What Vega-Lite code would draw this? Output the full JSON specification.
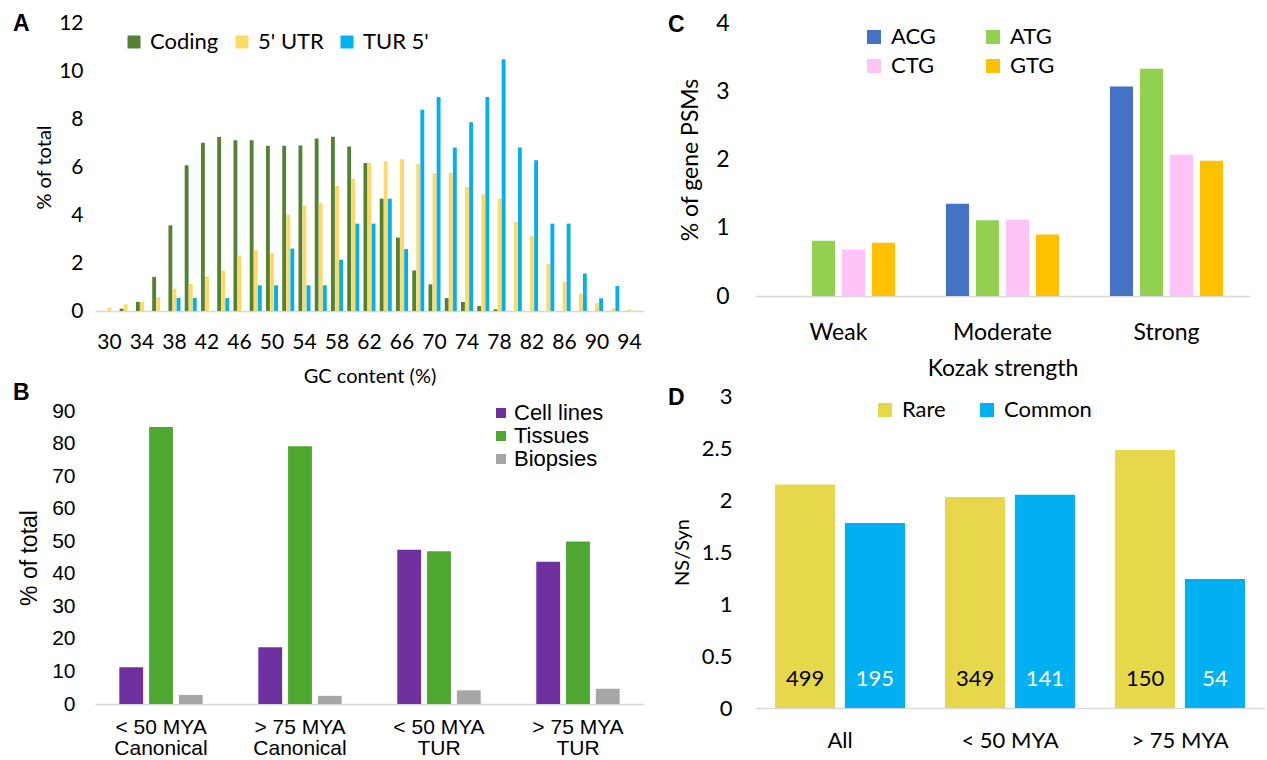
{
  "$schema": "https://vega.github.io/schema/vega-lite/v6.json",
  "background": "white",
  "padding": {"left": 13, "top": 12, "right": 0, "bottom": 0},
  "spacing": 660,
  "bounds": "flush",
  "resolve": {"scale": {"x": "independent", "y": "independent", "color": "independent", "xOffset": "independent"}},
  "config": {
    "view": {"stroke": null},
    "axis": {"grid": false, "ticks": false, "labelColor": "#000000", "titleColor": "#000000", "titleFontWeight": "normal"},
    "axisX": {"domain": true, "domainColor": "#d9d9d9", "domainWidth": 1.5, "labelAngle": 0},
    "axisY": {"domain": false},
    "legend": {"symbolType": "square", "symbolStrokeWidth": 0, "padding": 0, "labelColor": "#000000", "title": null},
    "title": {"anchor": "start", "frame": "group", "font": "Liberation Sans", "fontSize": 23, "fontWeight": "bold", "color": "#000000", "offset": 0}
  },
  "datasets": {
    "gc": [
      {"gc": 30, "series": "5' UTR", "pct": 0.14},
      {"gc": 32, "series": "Coding", "pct": 0.1}, {"gc": 32, "series": "5' UTR", "pct": 0.28},
      {"gc": 34, "series": "Coding", "pct": 0.38}, {"gc": 34, "series": "5' UTR", "pct": 0.38},
      {"gc": 36, "series": "Coding", "pct": 1.42}, {"gc": 36, "series": "5' UTR", "pct": 0.58},
      {"gc": 38, "series": "Coding", "pct": 3.57}, {"gc": 38, "series": "5' UTR", "pct": 0.93}, {"gc": 38, "series": "TUR 5'", "pct": 0.54},
      {"gc": 40, "series": "Coding", "pct": 6.07}, {"gc": 40, "series": "5' UTR", "pct": 1.14}, {"gc": 40, "series": "TUR 5'", "pct": 0.54},
      {"gc": 42, "series": "Coding", "pct": 7.01}, {"gc": 42, "series": "5' UTR", "pct": 1.44},
      {"gc": 44, "series": "Coding", "pct": 7.25}, {"gc": 44, "series": "5' UTR", "pct": 1.69}, {"gc": 44, "series": "TUR 5'", "pct": 0.54},
      {"gc": 46, "series": "Coding", "pct": 7.11}, {"gc": 46, "series": "5' UTR", "pct": 2.31},
      {"gc": 48, "series": "Coding", "pct": 7.11}, {"gc": 48, "series": "5' UTR", "pct": 2.53}, {"gc": 48, "series": "TUR 5'", "pct": 1.07},
      {"gc": 50, "series": "Coding", "pct": 6.89}, {"gc": 50, "series": "5' UTR", "pct": 2.42}, {"gc": 50, "series": "TUR 5'", "pct": 1.07},
      {"gc": 52, "series": "Coding", "pct": 6.89}, {"gc": 52, "series": "5' UTR", "pct": 4.01}, {"gc": 52, "series": "TUR 5'", "pct": 2.6},
      {"gc": 54, "series": "Coding", "pct": 6.9}, {"gc": 54, "series": "5' UTR", "pct": 4.4}, {"gc": 54, "series": "TUR 5'", "pct": 1.07},
      {"gc": 56, "series": "Coding", "pct": 7.19}, {"gc": 56, "series": "5' UTR", "pct": 4.49}, {"gc": 56, "series": "TUR 5'", "pct": 1.07},
      {"gc": 58, "series": "Coding", "pct": 7.26}, {"gc": 58, "series": "5' UTR", "pct": 5.21}, {"gc": 58, "series": "TUR 5'", "pct": 2.14},
      {"gc": 60, "series": "Coding", "pct": 6.85}, {"gc": 60, "series": "5' UTR", "pct": 5.5}, {"gc": 60, "series": "TUR 5'", "pct": 3.64},
      {"gc": 62, "series": "Coding", "pct": 6.17}, {"gc": 62, "series": "5' UTR", "pct": 6.17}, {"gc": 62, "series": "TUR 5'", "pct": 3.64},
      {"gc": 64, "series": "Coding", "pct": 4.68}, {"gc": 64, "series": "5' UTR", "pct": 6.24}, {"gc": 64, "series": "TUR 5'", "pct": 4.68},
      {"gc": 66, "series": "Coding", "pct": 3.06}, {"gc": 66, "series": "5' UTR", "pct": 6.33}, {"gc": 66, "series": "TUR 5'", "pct": 2.58},
      {"gc": 68, "series": "Coding", "pct": 1.69}, {"gc": 68, "series": "5' UTR", "pct": 6.14}, {"gc": 68, "series": "TUR 5'", "pct": 8.39},
      {"gc": 70, "series": "Coding", "pct": 1.11}, {"gc": 70, "series": "5' UTR", "pct": 5.74}, {"gc": 70, "series": "TUR 5'", "pct": 8.92},
      {"gc": 72, "series": "Coding", "pct": 0.54}, {"gc": 72, "series": "5' UTR", "pct": 5.76}, {"gc": 72, "series": "TUR 5'", "pct": 6.81},
      {"gc": 74, "series": "Coding", "pct": 0.38}, {"gc": 74, "series": "5' UTR", "pct": 5.17}, {"gc": 74, "series": "TUR 5'", "pct": 7.86},
      {"gc": 76, "series": "Coding", "pct": 0.21}, {"gc": 76, "series": "5' UTR", "pct": 4.86}, {"gc": 76, "series": "TUR 5'", "pct": 8.92},
      {"gc": 78, "series": "Coding", "pct": 0.07}, {"gc": 78, "series": "5' UTR", "pct": 4.68}, {"gc": 78, "series": "TUR 5'", "pct": 10.49},
      {"gc": 80, "series": "5' UTR", "pct": 3.71}, {"gc": 80, "series": "TUR 5'", "pct": 6.81},
      {"gc": 82, "series": "5' UTR", "pct": 3.13}, {"gc": 82, "series": "TUR 5'", "pct": 6.28},
      {"gc": 84, "series": "5' UTR", "pct": 1.96}, {"gc": 84, "series": "TUR 5'", "pct": 3.64},
      {"gc": 86, "series": "5' UTR", "pct": 1.22}, {"gc": 86, "series": "TUR 5'", "pct": 3.64},
      {"gc": 88, "series": "5' UTR", "pct": 0.72}, {"gc": 88, "series": "TUR 5'", "pct": 1.56},
      {"gc": 90, "series": "5' UTR", "pct": 0.33}, {"gc": 90, "series": "TUR 5'", "pct": 0.53},
      {"gc": 92, "series": "5' UTR", "pct": 0.11}, {"gc": 92, "series": "TUR 5'", "pct": 1.04},
      {"gc": 94, "series": "5' UTR", "pct": 0.06}
    ],
    "samples": [
      {"group": "< 50 MYA|Canonical", "source": "Cell lines", "pct": 11.3},
      {"group": "< 50 MYA|Canonical", "source": "Tissues", "pct": 85.1},
      {"group": "< 50 MYA|Canonical", "source": "Biopsies", "pct": 2.8},
      {"group": "> 75 MYA|Canonical", "source": "Cell lines", "pct": 17.4},
      {"group": "> 75 MYA|Canonical", "source": "Tissues", "pct": 79.2},
      {"group": "> 75 MYA|Canonical", "source": "Biopsies", "pct": 2.5},
      {"group": "< 50 MYA|TUR", "source": "Cell lines", "pct": 47.4},
      {"group": "< 50 MYA|TUR", "source": "Tissues", "pct": 46.9},
      {"group": "< 50 MYA|TUR", "source": "Biopsies", "pct": 4.2},
      {"group": "> 75 MYA|TUR", "source": "Cell lines", "pct": 43.7},
      {"group": "> 75 MYA|TUR", "source": "Tissues", "pct": 49.9},
      {"group": "> 75 MYA|TUR", "source": "Biopsies", "pct": 4.7}
    ],
    "kozak": [
      {"strength": "Weak", "codon": "ATG", "pct": 0.81},
      {"strength": "Weak", "codon": "CTG", "pct": 0.68},
      {"strength": "Weak", "codon": "GTG", "pct": 0.78},
      {"strength": "Moderate", "codon": "ACG", "pct": 1.35},
      {"strength": "Moderate", "codon": "ATG", "pct": 1.11},
      {"strength": "Moderate", "codon": "CTG", "pct": 1.12},
      {"strength": "Moderate", "codon": "GTG", "pct": 0.9},
      {"strength": "Strong", "codon": "ACG", "pct": 3.07},
      {"strength": "Strong", "codon": "ATG", "pct": 3.33},
      {"strength": "Strong", "codon": "CTG", "pct": 2.07},
      {"strength": "Strong", "codon": "GTG", "pct": 1.98}
    ],
    "nssyn": [
      {"age": "All", "freq": "Rare", "ratio": 2.15, "n": 499},
      {"age": "All", "freq": "Common", "ratio": 1.78, "n": 195},
      {"age": "< 50 MYA", "freq": "Rare", "ratio": 2.03, "n": 349},
      {"age": "< 50 MYA", "freq": "Common", "ratio": 2.05, "n": 141},
      {"age": "> 75 MYA", "freq": "Rare", "ratio": 2.48, "n": 150},
      {"age": "> 75 MYA", "freq": "Common", "ratio": 1.24, "n": 54}
    ]
  },
  "hconcat": [
    {
      "spacing": 100,
      "bounds": "flush",
      "resolve": {"scale": {"x": "independent", "y": "independent", "color": "independent", "xOffset": "independent"}},
      "vconcat": [
        {
          "width": 549,
          "height": 288,
          "title": {"text": "A", "dx": -82, "dy": 28},
          "data": {"name": "gc"},
          "mark": {"type": "bar"},
          "encoding": {
            "x": {
              "field": "gc", "type": "ordinal",
              "scale": {"paddingInner": 0.26, "paddingOuter": 0.52},
              "axis": {"values": [30, 34, 38, 42, 46, 50, 54, 58, 62, 66, 70, 74, 78, 82, 86, 90, 94], "labelFont": "Lato", "labelFontSize": 21, "labelPadding": 20, "title": "GC content (%)", "titleFont": "Lato", "titleFontSize": 20, "titlePadding": 14}
            },
            "xOffset": {"field": "series", "type": "nominal", "sort": ["Coding", "5' UTR", "TUR 5'"], "scale": {"paddingInner": 0.05}},
            "y": {
              "field": "pct", "type": "quantitative",
              "scale": {"domain": [0, 12]},
              "axis": {"values": [0, 2, 4, 6, 8, 10, 12], "labelFont": "Lato", "labelFontSize": 21, "labelPadding": 12, "title": "% of total", "titleFont": "Lato", "titleFontSize": 20, "titlePadding": 4}
            },
            "color": {
              "field": "series", "type": "nominal",
              "scale": {"domain": ["Coding", "5' UTR", "TUR 5'"], "range": ["#548235", "#FFD966", "#00B0F0"]},
              "legend": {"orient": "none", "direction": "horizontal", "legendX": 28, "legendY": 8, "symbolSize": 169, "labelFont": "Lato", "labelFontSize": 22, "labelOffset": 5, "columnPadding": 12}
            }
          }
        },
        {
          "width": 549,
          "height": 293,
          "title": {"text": "B", "dx": -82, "dy": 9},
          "data": {"name": "samples"},
          "mark": {"type": "bar"},
          "encoding": {
            "x": {
              "field": "group", "type": "nominal", "sort": null,
              "scale": {"paddingInner": 0.4, "paddingOuter": 0.175},
              "axis": {"labelExpr": "split(datum.label, '|')", "labelFont": "Liberation Sans", "labelFontSize": 21, "labelLineHeight": 21, "labelPadding": 12, "title": null}
            },
            "xOffset": {"field": "source", "type": "nominal", "sort": ["Cell lines", "Tissues", "Biopsies"], "scale": {"paddingInner": 0.2}},
            "y": {
              "field": "pct", "type": "quantitative",
              "scale": {"domain": [0, 90]},
              "axis": {"values": [0, 10, 20, 30, 40, 50, 60, 70, 80, 90], "labelFont": "Liberation Sans", "labelFontSize": 21, "labelPadding": 20, "title": "% of total", "titleFont": "Liberation Sans", "titleFontSize": 23, "titlePadding": 10}
            },
            "color": {
              "field": "source", "type": "nominal",
              "scale": {"domain": ["Cell lines", "Tissues", "Biopsies"], "range": ["#7030A0", "#4EA72E", "#A6A6A6"]},
              "legend": {"orient": "none", "direction": "vertical", "legendX": 395, "legendY": -9, "symbolSize": 100, "labelFont": "Liberation Sans", "labelFontSize": 22, "labelOffset": 2, "rowPadding": 1}
            }
          }
        }
      ]
    },
    {
      "spacing": 100,
      "bounds": "flush",
      "resolve": {"scale": {"x": "independent", "y": "independent", "color": "independent", "xOffset": "independent"}},
      "vconcat": [
        {
          "width": 495,
          "height": 273,
          "title": {"text": "C", "dx": -87, "dy": 29},
          "data": {"name": "kozak"},
          "mark": {"type": "bar"},
          "encoding": {
            "x": {
              "field": "strength", "type": "nominal", "sort": ["Weak", "Moderate", "Strong"],
              "scale": {"paddingInner": 0.31, "paddingOuter": 0.164},
              "axis": {"labelFont": "Lato", "labelFontSize": 23, "labelPadding": 25, "title": "Kozak strength", "titleFont": "Lato", "titleFontSize": 23, "titlePadding": 13}
            },
            "xOffset": {"field": "codon", "type": "nominal", "sort": ["ACG", "ATG", "CTG", "GTG"], "scale": {"paddingInner": 0.23}},
            "y": {
              "field": "pct", "type": "quantitative",
              "scale": {"domain": [0, 4]},
              "axis": {"values": [0, 1, 2, 3, 4], "labelFont": "Lato", "labelFontSize": 23, "labelPadding": 26, "title": "% of gene PSMs", "titleFont": "Lato", "titleFontSize": 23, "titlePadding": 13}
            },
            "color": {
              "field": "codon", "type": "nominal",
              "scale": {"domain": ["ACG", "ATG", "CTG", "GTG"], "range": ["#4472C4", "#92D050", "#FFC3F8", "#FFC000"]},
              "legend": {"orient": "none", "direction": "horizontal", "columns": 2, "legendX": 108, "legendY": 3, "symbolSize": 196, "labelFont": "Lato", "labelFontSize": 22, "labelOffset": 6, "columnPadding": 46, "rowPadding": 7}
            }
          }
        },
        {
          "width": 510,
          "height": 312,
          "title": {"text": "D", "dx": -87, "dy": 29},
          "data": {"name": "nssyn"},
          "encoding": {
            "x": {
              "field": "age", "type": "nominal", "sort": ["All", "< 50 MYA", "> 75 MYA"],
              "scale": {"paddingInner": 0.235, "paddingOuter": 0.1175},
              "axis": {"labelFont": "Lato", "labelFontSize": 22, "labelPadding": 22, "title": null}
            },
            "xOffset": {"field": "freq", "type": "nominal", "sort": ["Rare", "Common"], "scale": {"paddingInner": 0.14}}
          },
          "layer": [
            {
              "mark": {"type": "bar"},
              "encoding": {
                "y": {
                  "field": "ratio", "type": "quantitative",
                  "scale": {"domain": [0, 3]},
                  "axis": {"values": [0, 0.5, 1, 1.5, 2, 2.5, 3], "format": "~g", "labelFont": "Lato", "labelFontSize": 22, "labelPadding": 23, "title": "NS/Syn", "titleFont": "Lato", "titleFontSize": 20, "titlePadding": 9}
                },
                "color": {
                  "field": "freq", "type": "nominal",
                  "scale": {"domain": ["Rare", "Common"], "range": ["#E6D74B", "#00B0F0"]},
                  "legend": {"orient": "none", "direction": "horizontal", "legendX": 119, "legendY": 3, "symbolSize": 196, "labelFont": "Lato", "labelFontSize": 22, "labelOffset": 6, "columnPadding": 30}
                }
              }
            },
            {
              "mark": {"type": "text", "font": "Lato", "fontSize": 22, "baseline": "middle"},
              "encoding": {
                "y": {"datum": 0.28, "type": "quantitative"},
                "text": {"field": "n", "type": "quantitative"},
                "color": {"condition": {"test": "datum.freq === 'Rare'", "value": "#000000"}, "value": "#ffffff"}
              }
            }
          ]
        }
      ]
    }
  ]
}
